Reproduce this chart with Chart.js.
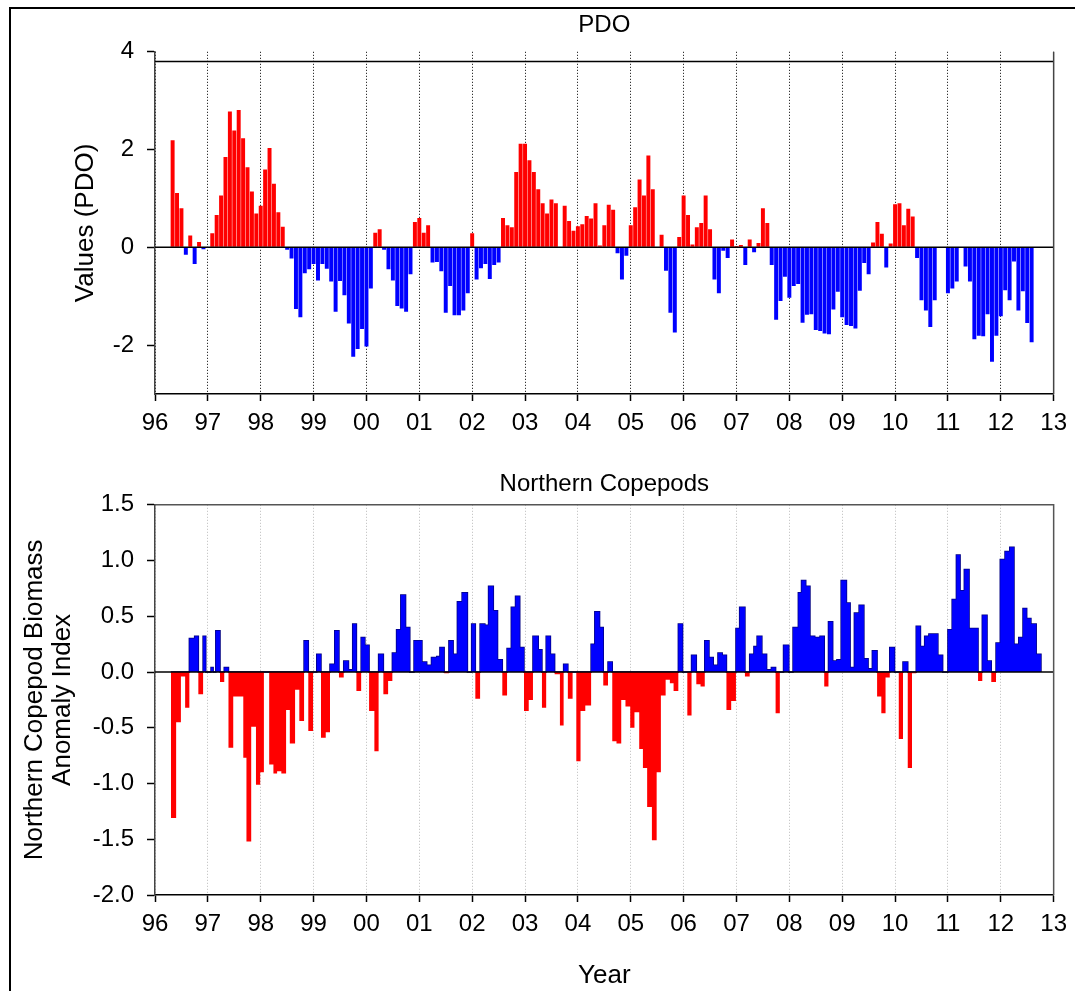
<!DOCTYPE html>
<html lang="en">
<head>
<meta charset="UTF-8">
<title>PDO and Northern Copepods</title>
<script src="https://cdn.jsdelivr.net/npm/chart.js"></script>
<style>
  body { margin: 0; background: #fff; }
  #frame { position: absolute; left: 9px; top: 7px; width: 1064px; height: 1010px; border: 2px solid #000; }
  canvas { position: absolute; left: 0; }
</style>
</head>
<body>
<div id="frame"></div>
<canvas id="pdoChart" width="1075" height="440" style="top:0"></canvas>
<canvas id="copeChart" width="1075" height="551" style="top:440px"></canvas>
<script>
// x axis: years since 1900, labelled with two digits
const xTickLabels = ['96','97','98','99','00','01','02','03','04','05','06','07','08','09','10','11','12','13'];

// PDO monthly values, first value is May 1996 (null = no bar)
const pdoStartYear = 96, pdoStartMonth = 5;
const pdoValues = [
  2.19, 1.11, 0.80, -0.15, 0.24, -0.34, 0.11, -0.04,
  null, 0.29, 0.66, 1.06, 1.85, 2.78, 2.39, 2.81, 2.23, 1.64, 1.14, 0.69,
  0.85, 1.59, 2.03, 1.30, 0.72, 0.42, -0.05, -0.23, -1.26, -1.43, -0.53, -0.45,
  -0.34, -0.68, -0.34, -0.44, -0.70, -1.32, -0.69, -0.98, -1.56, -2.24, -2.08, -1.67,
  -2.03, -0.84, 0.30, 0.37, -0.05, -0.45, -0.68, -1.20, -1.25, -1.32, -0.55, 0.52,
  0.60, 0.30, 0.45, -0.31, -0.30, -0.49, -1.34, -0.79, -1.39, -1.39, -1.29, -0.94,
  0.29, -0.66, -0.43, -0.34, -0.65, -0.36, -0.31, 0.60, 0.45, 0.41, 1.54, 2.12,
  2.12, 1.78, 1.54, 1.19, 0.90, 0.69, 0.98, 0.90, 0.01, 0.85, 0.54, 0.34,
  0.43, 0.47, 0.64, 0.59, 0.90, 0.04, 0.45, 0.87, 0.77, -0.12, -0.66, -0.17,
  0.45, 0.82, 1.39, 1.06, 1.88, 1.19, null, 0.26, -0.48, -1.34, -1.74, 0.21,
  1.06, 0.66, 0.06, 0.41, 0.50, 1.06, 0.37, -0.66, -0.94, -0.07, -0.22, 0.16,
  0.03, 0.05, -0.36, 0.16, -0.10, 0.09, 0.80, 0.50, -0.36, -1.48, -1.10, -0.60,
  -1.03, -0.79, -0.75, -1.54, -1.38, -1.37, -1.69, -1.71, -1.76, -1.78, -1.27, -0.91,
  -1.43, -1.59, -1.61, -1.66, -0.89, -0.32, -0.55, 0.10, 0.52, 0.28, -0.41, 0.08,
  0.88, 0.90, 0.45, 0.79, 0.63, -0.22, -1.08, -1.29, -1.63, -1.08, null, null,
  -0.94, -0.84, -0.70, null, -0.39, -0.70, -1.88, -1.81, -1.82, -1.37, -2.34, -1.81,
  -1.41, -0.88, -1.08, -0.29, -1.29, -0.90, -1.55, -1.94
];
const pdoYTicks = [-2, 0, 2, 4];
const pdoRefLine = 3.8;

// Northern copepod anomaly: sample date (years since 1900) and value, each value holds until the next date
const copeDates = [
  96.30, 96.40, 96.49, 96.57, 96.65, 96.75, 96.82, 96.91, 96.96,
  97.06, 97.10, 97.15, 97.23, 97.31, 97.39, 97.48, 97.67, 97.73, 97.82, 97.91, 97.99,
  98.06, 98.16, 98.24, 98.31, 98.39, 98.48, 98.55, 98.65, 98.73, 98.82, 98.90, 98.99,
  99.06, 99.14, 99.23, 99.31, 99.40, 99.48, 99.57, 99.66, 99.74, 99.81, 99.90, 99.97,
  100.05, 100.15, 100.23, 100.32, 100.41, 100.49, 100.57, 100.65, 100.74, 100.82, 100.90,
  101.05, 101.14, 101.23, 101.33, 101.39, 101.47, 101.56, 101.64, 101.72, 101.81, 101.91, 101.99,
  102.06, 102.15, 102.24, 102.31, 102.40, 102.48, 102.57, 102.66, 102.74, 102.82, 102.90, 102.98,
  103.07, 103.15, 103.25, 103.32, 103.40, 103.48, 103.56, 103.66, 103.73, 103.81, 103.90, 103.97,
  104.05, 104.14, 104.25, 104.32, 104.41, 104.48, 104.57, 104.65, 104.73, 104.82, 104.90, 104.99,
  105.07, 105.16, 105.23, 105.31, 105.40, 105.49, 105.57, 105.66, 105.74, 105.81, 105.90, 105.98,
  106.07, 106.15, 106.24, 106.32, 106.40, 106.48, 106.56, 106.65, 106.73, 106.81, 106.90, 106.99,
  107.06, 107.16, 107.25, 107.33, 107.39, 107.48, 107.57, 107.66, 107.74, 107.82, 107.89, 107.99,
  108.07, 108.17, 108.23, 108.31, 108.39, 108.48, 108.58, 108.66, 108.74, 108.82, 108.90, 108.98,
  109.08, 109.15, 109.23, 109.32, 109.41, 109.49, 109.57, 109.66, 109.74, 109.82, 109.90, 109.99,
  110.07, 110.15, 110.24, 110.32, 110.40, 110.48, 110.56, 110.64, 110.71, 110.81, 110.90,
  111.00, 111.08, 111.16, 111.23, 111.31, 111.40, 111.48, 111.57, 111.65, 111.74, 111.82, 111.91, 111.99,
  112.08, 112.17, 112.25, 112.34, 112.42, 112.49, 112.57, 112.67, 112.76
];
const copeValues = [
  -1.31, -0.45, -0.04, -0.32, 0.30, 0.32, -0.20, 0.32, 0,
  0.04, 0, 0.37, -0.09, 0.04, -0.68, -0.22, -0.77, -1.52, -0.49, -1.01, -0.90,
  0, -0.83, -0.91, -0.89, -0.91, -0.34, -0.64, -0.16, -0.44, 0.28, -0.53, 0,
  0.16, -0.59, -0.54, 0.07, 0.37, -0.05, 0.10, 0.02, 0.43, -0.17, 0.31, 0.24,
  -0.35, -0.71, 0.16, -0.20, -0.08, 0.17, 0.38, 0.69, 0.40, 0, 0.28,
  0.09, 0.06, 0.13, 0.14, 0.22, -0.01, 0.28, 0.16, 0.63, 0.71, 0, 0.43,
  -0.24, 0.43, 0.42, 0.77, 0.55, 0.11, -0.21, 0.21, 0.58, 0.68, 0.22, -0.35,
  -0.25, 0.32, 0.20, -0.32, 0.32, 0.16, -0.02, -0.48, 0.07, -0.24, 0, -0.80,
  -0.35, -0.30, 0.25, 0.54, 0.40, -0.12, 0.09, -0.62, -0.64, -0.25, -0.31, -0.50,
  -0.36, -0.69, -0.86, -1.21, -1.51, -0.90, -0.21, -0.07, -0.10, -0.17, 0.43, 0,
  -0.39, 0.15, -0.11, -0.13, 0.28, 0.13, 0.06, 0.17, 0.15, -0.34, -0.26, 0.39,
  0.58, -0.04, 0.16, 0.23, 0.32, 0.16, 0.02, 0.04, -0.37, 0, 0.24, 0,
  0.40, 0.71, 0.82, 0.77, 0.32, 0.31, 0.32, -0.13, 0.45, 0.10, 0.11, 0.82,
  0.62, 0.04, 0.53, 0.60, 0.12, 0.03, 0.19, -0.22, -0.37, -0.05, 0.22, 0,
  -0.60, 0.09, -0.86, -0.01, 0.41, 0.23, 0.32, 0.34, 0.34, 0.15, 0,
  0.38, 0.65, 1.05, 0.73, 0.92, 0.39, 0.39, -0.08, 0.51, 0.10, -0.09, 0.26, 1.01,
  1.08, 1.12, 0.25, 0.31, 0.57, 0.48, 0.43, 0.16, 0
];
const copeYTicks = [-2.0, -1.5, -1.0, -0.5, 0.0, 0.5, 1.0, 1.5];

const RED = '#ff0000', BLUE = '#0000ff';
Chart.defaults.font.family = '"Liberation Sans", Arial, sans-serif';
Chart.defaults.color = '#000';

// zero line, extra reference lines and the remaining spines
const frameLines = {
  id: 'frameLines',
  afterDatasetsDraw(chart, args, opts) {
    const {ctx, chartArea: a, scales: {y}} = chart;
    ctx.save();
    ctx.strokeStyle = '#000';
    ctx.lineWidth = 1.5;
    opts.lines.forEach(v => {
      const py = y.getPixelForValue(v);
      ctx.beginPath(); ctx.moveTo(a.left, py); ctx.lineTo(a.right, py); ctx.stroke();
    });
    ctx.strokeStyle = opts.spineColor;
    ctx.beginPath();
    ctx.moveTo(a.right, a.bottom);
    ctx.lineTo(a.right, a.top);
    if (opts.topSpine) ctx.lineTo(a.left, a.top);
    ctx.stroke();
    ctx.restore();
  }
};

function xScale(height, gridColor) {
  return {
    type: 'linear', min: 96, max: 113, offset: false,
    afterFit: s => { s.height = height; },
    ticks: {
      stepSize: 1, autoSkip: false, maxRotation: 0, padding: 8,
      font: {size: 24},
      callback: v => xTickLabels[Math.round(v) - 96]
    },
    grid: {
      offset: false,
      color: gridColor, lineWidth: 1, tickLength: 7,
      tickColor: '#000', tickBorderDash: [], tickWidth: 1.5
    },
    border: {display: true, color: '#000', width: 1.5, dash: [1, 2]}
  };
}

function yScale(min, max, ticks, fmt, title, titleTop, lineHeight) {
  return {
    min: min, max: max,
    afterFit: s => { s.width = 155; },
    afterBuildTicks: s => { s.ticks = ticks.map(v => ({value: v})); },
    ticks: {font: {size: 24}, padding: 13, callback: fmt},
    grid: {drawOnChartArea: false, tickLength: 8, tickColor: '#000', tickWidth: 1.5},
    border: {display: true, color: '#444', width: 1.5},
    title: {display: true, text: title, font: {size: 26, lineHeight: lineHeight}, padding: {top: titleTop, bottom: 0}}
  };
}

const pdoData = pdoValues.map((v, i) => ({
  x: pdoStartYear + (pdoStartMonth - 1 + i) / 12,
  y: v
}));

new Chart(document.getElementById('pdoChart'), {
  type: 'bar',
  data: {
    datasets: [{
      data: pdoData,
      backgroundColor: c => (c.raw && c.raw.y >= 0) ? RED : BLUE,
      barPercentage: 0.9,
      categoryPercentage: 1.0,
      grouped: false
    }]
  },
  options: {
    responsive: false,
    animation: false,
    layout: {padding: {left: 0, right: 21, top: 0, bottom: 0}},
    scales: {
      x: xScale(46, '#000'),
      y: yScale(-3, 4, pdoYTicks, v => String(v), 'Values (PDO)', 70, 1.2)
    },
    plugins: {
      legend: {display: false},
      tooltip: {enabled: false},
      title: {display: true, fullSize: false, text: 'PDO', font: {size: 24, weight: 'normal'}, padding: {top: 11, bottom: 12}},
      frameLines: {lines: [0, pdoRefLine], spineColor: '#444', topSpine: false}
    }
  },
  plugins: [frameLines]
});

const copeData = copeDates.map((d, i) => ({x: d, y: copeValues[i]}));
// outline along the tops of the positive bars
const copeTops = copeDates.map((d, i) => ({x: d, y: Math.max(copeValues[i], 0)}));

new Chart(document.getElementById('copeChart'), {
  type: 'line',
  data: {
    datasets: [{
      data: copeData,
      stepped: true,
      pointRadius: 0,
      borderWidth: 0,
      fill: {target: 'origin', above: BLUE, below: RED}
    }, {
      data: copeTops,
      stepped: true,
      pointRadius: 0,
      borderWidth: 1.5,
      borderColor: '#000080',
      fill: false
    }]
  },
  options: {
    responsive: false,
    animation: false,
    layout: {padding: {left: 0, right: 21, top: 0, bottom: 0}},
    scales: {
      x: Object.assign(xScale(96, '#bbbbbb'), {
        title: {display: true, text: 'Year', font: {size: 26}, padding: {top: 0, bottom: 0}}
      }),
      y: yScale(-2, 1.5, copeYTicks, v => v.toFixed(1),
        ['Northern Copepod Biomass', 'Anomaly Index'], 21, 28 / 26)
    },
    plugins: {
      legend: {display: false},
      tooltip: {enabled: false},
      title: {display: true, fullSize: false, text: 'Northern Copepods', font: {size: 24, weight: 'normal'}, padding: {top: 30, bottom: 6}},
      frameLines: {lines: [0], spineColor: '#555', topSpine: true}
    }
  },
  plugins: [frameLines]
});
</script>
</body>
</html>
